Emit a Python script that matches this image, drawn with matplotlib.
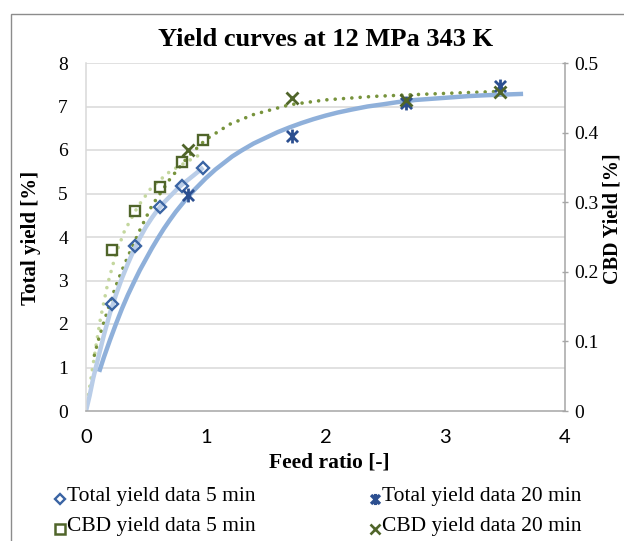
import matplotlib
matplotlib.use("Agg")
import matplotlib.pyplot as plt
from matplotlib.path import Path
from matplotlib.lines import Line2D
from matplotlib.patches import Rectangle

# ---------------- data ----------------
feed_5min = [0.22, 0.41, 0.62, 0.80, 0.98]
total_5min = [2.46, 3.80, 4.69, 5.17, 5.59]
cbd_5min = [0.232, 0.287, 0.322, 0.358, 0.390]

feed_20min = [0.85, 1.72, 2.67, 3.46]
total_20min = [4.96, 6.32, 7.07, 7.47]
cbd_20min = [0.375, 0.450, 0.447, 0.459]

# model curves
fit_total5_x = [0.0, 0.03, 0.06, 0.10, 0.15, 0.20, 0.25, 0.30, 0.35, 0.40, 0.45, 0.50, 0.55, 0.60,
                0.65, 0.70, 0.75, 0.80, 0.85, 0.90, 0.94, 0.98]
fit_total5_y = [0.0, 0.35, 0.75, 1.20, 1.75, 2.25, 2.67, 3.05, 3.39, 3.70, 3.98, 4.23, 4.44, 4.63,
                4.79, 4.93, 5.07, 5.20, 5.31, 5.42, 5.51, 5.60]

fit_total20_x = [0.11, 0.15, 0.20, 0.25, 0.30, 0.35, 0.40, 0.45, 0.50, 0.55, 0.60, 0.65, 0.70, 0.75,
                 0.80, 0.85, 0.90, 0.95, 1.00, 1.08, 1.15, 1.22, 1.30, 1.40, 1.50, 1.60, 1.70,
                 1.80, 1.90, 2.00, 2.10, 2.22, 2.35, 2.48, 2.60, 2.75, 2.90, 3.05, 3.20, 3.35,
                 3.45, 3.55, 3.65]
fit_total20_y = [0.90, 1.24, 1.63, 2.00, 2.35, 2.67, 2.96, 3.24, 3.49, 3.74, 3.97, 4.19, 4.39, 4.58,
                 4.75, 4.92, 5.07, 5.21, 5.35, 5.55, 5.70, 5.85, 5.99, 6.15, 6.28, 6.41, 6.52,
                 6.62, 6.71, 6.79, 6.86, 6.93, 7.00, 7.05, 7.10, 7.15, 7.18, 7.21, 7.24, 7.26,
                 7.27, 7.28, 7.29]

fit_cbd5_x = [0.0, 0.04, 0.08, 0.12, 0.18, 0.25, 0.32, 0.43, 0.55, 0.70, 0.85, 0.97]
fit_cbd5_y = [0.0, 0.045, 0.090, 0.132, 0.182, 0.226, 0.258, 0.293, 0.322, 0.344, 0.359, 0.370]

fit_cbd20_x = [0.07, 0.10, 0.15, 0.20, 0.25, 0.30, 0.35, 0.45, 0.55, 0.70, 0.85, 1.00, 1.20, 1.40,
               1.70, 2.00, 2.40, 2.80, 3.10, 3.43]
fit_cbd20_y = [0.080, 0.100, 0.128, 0.155, 0.180, 0.202, 0.222, 0.260, 0.295, 0.333, 0.365, 0.390,
               0.412, 0.426, 0.440, 0.447, 0.452, 0.455, 0.457, 0.459]

x_ticks = [0, 1, 2, 3, 4]
y_left_ticks = [0, 1, 2, 3, 4, 5, 6, 7, 8]
y_right_ticks = [0, 0.1, 0.2, 0.3, 0.4, 0.5]

legend_labels = ["Total yield data 5 min", "Total yield data 20 min",
                 "CBD yield data 5 min", "CBD yield data 20 min"]

# ---------------- styles ----------------
SERIF = "Liberation Serif"
SANS = "Lato"
c_dia = "#3a64a3"
c_ast = "#2c4f90"
c_sq = "#50652a"
c_xg = "#50652a"
c_lb1 = "#b9cde8"
c_lb2 = "#8fb0da"
c_lg = "#c4d79e"
c_dg = "#77933c"
c_grid = "#d9d9d9"
c_axis = "#a6a6a6"

ast_path = Path([(-1, -1), (1, 1), (-1, 1), (1, -1), (0, -1.25), (0, 1.25)],
                [Path.MOVETO, Path.LINETO, Path.MOVETO, Path.LINETO, Path.MOVETO, Path.LINETO])

fig = plt.figure(figsize=(6.24, 5.41), dpi=100)
W, H = 624, 541
ax = fig.add_axes([86 / W, 1 - 411 / H, (565 - 86) / W, (411 - 63) / H])
ax2 = ax.twinx()

# outer chart frame
fig.add_artist(Rectangle((10.5 / W, -0.1), 1.2, 1 - 13.5 / H + 0.1, transform=fig.transFigure,
                         fill=False, edgecolor="#8c8c8c", linewidth=1.0))

ax.set_xlim(0, 4)
ax.set_ylim(0, 8)
ax2.set_ylim(0, 0.5)
ax.set_zorder(2)
ax2.set_zorder(1)
ax.patch.set_visible(False)

for v in y_left_ticks[1:]:
    ax2.axhline(v / 16.0, color=c_grid, linewidth=1.1, zorder=0)

# curves
ax2.plot(fit_cbd5_x, fit_cbd5_y, color=c_lg, linewidth=2.6, linestyle=(0, (0.01, 2.3)),
         dash_capstyle="round", zorder=2)
ax2.plot(fit_cbd20_x, fit_cbd20_y, color=c_dg, linewidth=2.6, linestyle=(0, (0.01, 2.3)),
         dash_capstyle="round", zorder=2)
ax.plot(fit_total5_x, fit_total5_y, color=c_lb1, linewidth=3.2, solid_capstyle="butt",
        solid_joinstyle="round", zorder=2)
ax.plot(fit_total20_x, fit_total20_y, color=c_lb2, linewidth=3.2, solid_capstyle="butt",
        solid_joinstyle="round", zorder=2)

# markers
ax.plot(feed_5min, total_5min, linestyle="none", marker="D", markersize=6.3,
        markerfacecolor="none", markeredgecolor=c_dia, markeredgewidth=1.7, zorder=4)
ax.plot(feed_20min, total_20min, linestyle="none", marker=ast_path, markersize=10,
        markeredgecolor=c_ast, markeredgewidth=2.0, zorder=4)
ax.plot(feed_5min, [v * 16 for v in cbd_5min], linestyle="none", marker="s", markersize=7.2,
        markerfacecolor="none", markeredgecolor=c_sq, markeredgewidth=1.7, zorder=4)
ax.plot(feed_20min, [v * 16 for v in cbd_20min], linestyle="none", marker="x", markersize=9,
        markeredgecolor=c_xg, markeredgewidth=2.0, zorder=4)

# axes styling
for s in ["top", "right"]:
    ax.spines[s].set_visible(False)
for s in ["top", "left", "bottom"]:
    ax2.spines[s].set_visible(False)
ax.spines["left"].set_color(c_grid)
ax.spines["left"].set_linewidth(1.1)
ax.spines["bottom"].set_color(c_axis)
ax.spines["bottom"].set_linewidth(1.1)
ax2.spines["right"].set_color(c_axis)
ax2.spines["right"].set_linewidth(1.1)

ax.set_xticks(x_ticks)
ax.set_xticklabels([str(t) for t in x_ticks], fontfamily=SANS, fontsize=14.5)
ax.tick_params(axis="x", length=0, pad=13)
ax.set_yticks(y_left_ticks)
ax.set_yticklabels([str(t) for t in y_left_ticks], fontfamily=SERIF, fontsize=14)
ax.tick_params(axis="y", length=0, pad=13, colors="black")
ax2.set_yticks(y_right_ticks)
ax2.set_yticklabels([("%g" % t) for t in y_right_ticks], fontfamily=SERIF, fontsize=14)
ax2.tick_params(axis="y", length=4, width=1.0, color=c_axis, direction="inout", pad=5)

fig.text(31 / W, 1 - 238 / H, "Total yield [%]", rotation=90, ha="center", va="center",
         fontfamily=SERIF, fontweight="bold", fontsize=15)
fig.text(613 / W, 1 - 219 / H, "CBD Yield [%]", rotation=90, ha="center", va="center",
         fontfamily=SERIF, fontweight="bold", fontsize=14.5)
fig.text(329 / W, 1 - 463 / H, "Feed ratio [-]", ha="center", va="center",
         fontfamily=SERIF, fontweight="bold", fontsize=15.5)
fig.text(326 / W, 1 - 40 / H, "Yield curves at 12 MPa 343 K", ha="center", va="center",
         fontfamily=SERIF, fontweight="bold", fontsize=19)

# legend (manual, two columns)
leg_items = [
    (60, 499, dict(marker="D", markersize=5.2, markerfacecolor="none", markeredgecolor=c_dia, markeredgewidth=1.7)),
    (375, 499, dict(marker=ast_path, markersize=8, markeredgecolor=c_ast, markeredgewidth=2.4)),
    (60, 529, dict(marker="s", markersize=7.0, markerfacecolor="none", markeredgecolor=c_sq, markeredgewidth=1.8)),
    (375, 529, dict(marker="x", markersize=7, markeredgecolor=c_xg, markeredgewidth=1.9)),
]
for (px, py, kw), lab in zip(leg_items, legend_labels):
    fig.add_artist(Line2D([px / W], [1 - py / H], transform=fig.transFigure, linestyle="none", **kw))
    fig.text((px + 7) / W, 1 - (py - 2) / H, lab, ha="left", va="center",
             fontfamily=SERIF, fontsize=15.5)

fig.savefig("out.png", dpi=100)
